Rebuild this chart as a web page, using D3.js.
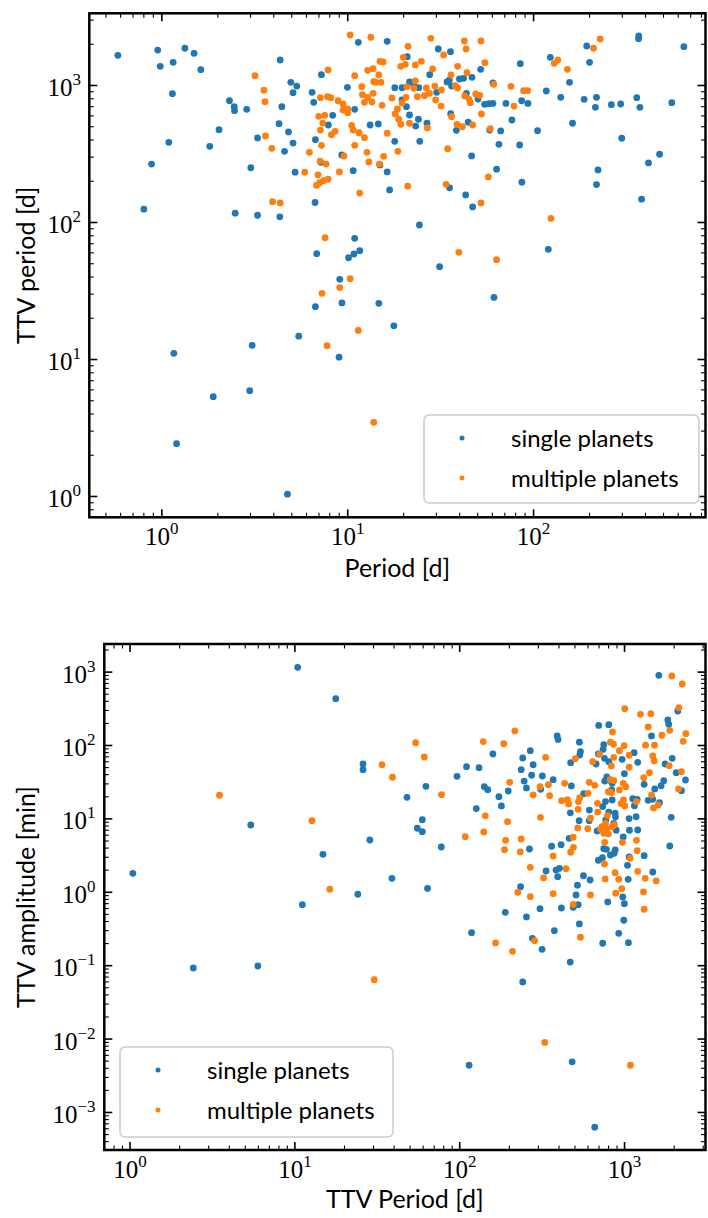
<!DOCTYPE html>
<html>
<head>
<meta charset="utf-8">
<script src="https://cdn.jsdelivr.net/npm/d3@7"></script>
<style>
  body { margin: 0; background: #fff; }
  svg { display: block; }
  .tick-label { font-family: "Liberation Serif", serif; font-size: 25px; fill: #000; }
  .axis-label { font-family: Lato, sans-serif; font-size: 25px; fill: #000; }
  .legend text { font-family: Lato, sans-serif; font-size: 24px; fill: #000; }
</style>
</head>
<body>
<svg id="chart" width="708" height="1218"></svg>
<script>
// Series names / colours
var seriesNames = ["single planets", "multiple planets"];
var seriesColors = ["#1f77b4", "#ff7f0e"];

// Top panel: [Period (d), TTV period (d)]
var singleTop = [
  [0.58,1660],[0.95,1815],[0.98,1380],[1.15,1476],[1.33,1870],[1.49,1718],[1.62,1304],[1.14,871],
  [4.33,1535],[7.22,1199],[4.94,1055],[5.32,991],[5.08,886],[6.43,892],[6.56,754],[9.96,970],
  [2.31,774],[2.45,700],[2.46,655],[2.86,670],[4.42,700],[8.30,606],[7.87,515],[10.9,670],
  [2.03,476],[1.09,385],[1.81,360],[4.27,526],[4.80,458],[3.27,414],[5.08,380],[4.57,331],
  [6.70,402],[9.29,311],[7.16,275],[0.88,267],[3.01,251],[5.21,233],[10.7,239],[0.80,125],
  [2.48,117],[3.27,113],[4.31,110],[6.67,140],[6.81,59.2],[10.9,76.7],[10.8,58.9],[10.1,55.3],
  [9.06,38.5],[11.4,2066],[6.70,24.3],[9.31,25.9],[5.45,14.8],[3.06,12.7],[1.16,11.1],[8.98,10.4],
  [1.89,5.35],[2.97,5.92],[1.20,2.43],[4.74,1.04],[14.7,25.7],[17.7,17.6],[61.2,28.4],
  [16.3,2102],[30.7,1847],[35.7,1765],[20.9,1623],[51.9,1313],[84.8,1443],[27.6,1199],[21.5,1061],
  [17.9,964],[19.6,964],[24.1,964],[22.7,986],[30.1,892],[34.2,1061],[35.2,1096],[36.2,991],
  [39.9,1115],[42.0,1129],[46.6,1147],[60.4,1043],[43.5,877],[50.2,797],[54.5,729],[57.5,736],
  [60.4,740],[71.0,740],[86.2,774],[93.2,740],[117,912],[123,1606],[140,820],[156,1055],
  [187,793],[218,820],[215,693],[262,724],[294,733],[359,815],[373,693],[554,749],
  [193,1942],[200,1476],[368,2297],[367,2197],[643,1920],[20.7,700],[19.6,784],[21.5,609],
  [24.0,567],[23.2,506],[26.7,530],[14.6,524],[13.2,515],[35.8,622],[44.5,539],[38.4,471],
  [58.0,473],[66.5,466],[76.4,560],[105,468],[162,530],[17.9,391],[24.4,391],[65.1,372],
  [84.1,368],[298,412],[46.4,306],[63.2,245],[86.5,197],[222,242],[218,189],[415,272],
  [476,315],[381,148],[16.3,234],[14.9,263],[16.8,173],[35.3,179],[43.1,159],[47.0,130],
  [24.3,95.9],[120,63.7],[31.2,47.6],[11.6,62.3]
];

var multiTop = [
  [3.17,1180],[3.54,923],[3.59,762],[7.84,1297],[10.3,2337],[10.9,1180],[7.13,815],[7.78,829],
  [8.11,815],[8.87,774],[9.43,733],[10.0,674],[9.43,662],[10.0,633],[6.98,596],[7.52,606],
  [7.34,532],[7.13,473],[8.55,463],[8.17,437],[10.5,512],[10.7,473],[11.5,452],[3.61,428],
  [3.90,348],[7.22,366],[10.9,366],[6.22,325],[9.55,306],[7.65,267],[7.10,281],[5.87,233],
  [6.92,223],[9.02,234],[7.84,207],[7.40,202],[7.07,195],[6.79,187],[3.94,142],[4.33,139],
  [11.6,164],[7.55,77.4],[10.3,38.9],[7.27,30.4],[9.06,33.5],[11.4,16.3],[7.74,12.6],[13.8,3.48],
  [13.3,2249],[28.0,2211],[42.4,2113],[52.1,2113],[43.3,1847],[21.1,1932],[32.8,1670],[19.9,1606],
  [14.9,1502],[15.5,1484],[19.3,1380],[20.4,1428],[23.1,1412],[24.9,1502],[39.0,1380],[54.7,1467],
  [12.8,1291],[13.7,1326],[28.6,1319],[14.7,1193],[43.8,1240],[35.9,1193],[13.8,1066],[15.1,1055],
  [14.2,1055],[23.1,1079],[11.9,980],[20.8,980],[22.7,954],[26.5,959],[29.4,991],[27.5,877],
  [25.9,842],[23.7,829],[29.7,784],[31.9,927],[37.9,997],[39.0,959],[61.0,1021],[75.5,986],
  [88.3,916],[92.8,916],[12.0,857],[13.7,877],[12.8,820],[12.3,754],[13.5,758],[17.3,811],
  [20.6,820],[19.6,745],[15.3,717],[42.6,838],[44.9,793],[45.7,749],[48.8,867],[51.3,848],
  [31.8,708],[78.4,708],[18.5,674],[18.0,620],[18.8,567],[19.3,521],[21.5,530],[26.8,490],
  [36.2,592],[38.7,521],[41.4,500],[47.0,515],[52.4,620],[58.5,484],[12.3,416],[16.3,448],
  [12.7,325],[15.6,304],[18.6,331],[13.0,277],[14.8,267],[34.5,346],[21.0,184],[33.8,190],
  [57.1,215],[52.1,139],[124,107],[152,1313],[129,1452],[135,1535],[210,1870],[228,2185],
  [39.6,60.6],[63.2,53.5]
];

// Bottom panel: [TTV period (d), TTV amplitude (min)]
var singleBottom = [
  [10.4,1163],[17.7,434],[5.40,8.26],[14.8,3.29],[1.04,1.81],[11.1,0.678],[24.1,0.94],[25.9,56.0],
  [25.9,46.8],[2.42,0.093],[5.96,0.099],
  [1614,904],[1830,223],[1854,194],[2104,295],[697,188],[802,192],[390,135],[395,121],
  [532,111],[1457,135],[748,103],[741,88.8],[540,82.4],[535,74.2],[694,76.6],[755,66.9],
  [802,60.2],[672,56.0],[471,58.3],[1143,79.8],[1202,59.0],[967,64.9],[998,41.3],[1763,56.0],
  [1945,66.9],[2057,42.6],[2343,33.9],[2215,24.2],[1730,33.2],[1667,28.3],[1525,25.6],[1391,17.9],
  [1483,18.5],[1629,16.6],[1315,29.6],[1193,18.5],[1148,15.1],[1121,18.8],[1176,10.7],[1066,10.1],
  [1202,7.06],[1071,7.0],[981,5.67],[1919,10.5],[1881,4.27],[1315,3.15],[1066,3.03],[1042,2.33],
  [1052,1.50],[1483,1.89],[758,32.8],[780,37.2],[813,33.6],[841,30.5],[836,24.8],[841,18.1],
  [766,17.2],[737,14.7],[802,12.4],[877,12.0],[881,10.7],[860,8.71],[889,7.0],[769,9.66],
  [682,6.84],[612,13.2],[565,22.0],[610,9.45],[530,9.45],[469,12.1],[461,5.44],[361,4.24],
  [412,4.45],[265,3.89],[748,3.93],[776,3.85],[877,3.77],[865,3.40],[821,3.22],[734,2.96],
  [694,2.73],[334,1.95],[384,2.01],[403,2.12],[393,1.63],[563,1.68],[618,1.47],[518,1.25],
  [508,0.92],[523,0.678],[791,0.738],[975,0.863],[998,0.699],[234,1.19],[307,0.598],[414,0.611],
  [159,76.6],[241,67.6],[268,84.9],[279,54.7],[236,46.8],[273,39.3],[317,38.4],[369,34.2],
  [246,32.8],[254,26.4],[310,25.3],[476,28.1],[197,24.0],[173,20.1],[179,15.0],[141,27.5],
  [148,25.0],[110,51.4],[131,49.9],[96.3,38.0],[62.4,27.8],[47.9,19.7],[126,13.8],[59.3,9.75],
  [55.3,7.45],[59.3,6.69],[28.5,5.16],[77.3,4.14],[38.8,1.55],[63.8,1.13],[189,0.534],[254,0.461],
  [488,0.625],[989,0.416],[922,0.276],[1056,0.206],[737,0.202],[532,0.370],[375,0.300],[276,0.236],
  [316,0.167],[468,0.112],[241,0.060],[118,0.282],[114,0.0044],[481,0.0049],[659,0.00063]
];

var multiBottom = [
  [3.49,21.0],[12.7,9.45],[16.3,1.10],[1935,885],[2237,689],[2134,327],[1003,317],[1249,266],
  [1443,271],[1391,179],[1683,138],[1881,161],[2353,145],[2268,114],[845,153],[821,111],
  [857,104],[994,99.3],[931,84.9],[1340,101],[1520,101],[1066,73.6],[1483,71.9],[1513,61.5],
  [1866,53.1],[1066,50.5],[860,69.1],[832,52.6],[707,75.9],[641,60.2],[332,69.1],[503,66.1],
  [216,158],[185,106],[139,113],[54.0,109],[61.0,69.7],[33.8,54.7],[39.1,36.9],[77.6,21.4],
  [201,31.5],[279,21.2],[307,27.5],[345,29.2],[351,20.7],[433,30.5],[415,17.7],[450,18.3],
  [458,16.0],[525,17.2],[535,19.4],[601,22.3],[610,31.5],[659,28.7],[523,13.5],[621,10.2],
  [598,7.35],[520,7.52],[685,16.3],[687,12.4],[798,23.5],[818,34.2],[860,33.2],[931,24.8],
  [981,30.5],[1017,27.5],[832,22.7],[985,18.1],[1003,15.0],[953,16.1],[1181,17.2],[1308,36.4],
  [1416,42.6],[1457,21.2],[1498,14.1],[1600,15.5],[2215,44.0],[2126,25.6],[787,11.1],[766,8.71],
  [780,7.35],[731,7.83],[714,7.28],[748,6.37],[798,6.23],[758,4.80],[755,2.43],[841,7.83],
  [868,8.34],[971,4.80],[1181,5.11],[1193,3.69],[1081,2.91],[1202,1.93],[1334,1.55],[1556,1.43],
  [1303,1.01],[877,1.85],[922,1.50],[962,1.12],[885,0.97],[763,1.52],[621,0.92],[488,5.62],
  [490,4.10],[471,3.51],[442,2.10],[369,3.12],[323,1.57],[369,0.957],[268,2.19],[268,0.871],
  [225,1.0],[190,5.11],[236,5.32],[233,3.54],[187,3.80],[195,9.16],[140,6.63],[143,11.0],
  [309,10.5],[108,5.72],[488,0.682],[1315,0.587],[165,0.204],[209,0.157],[285,0.219],[540,0.244],
  [30.3,0.0645],[328,0.0090],[1086,0.0044]
];

var svg = d3.select("#chart");

// Draw one log-log scatter panel
function drawPanel(p) {
  var g = svg.append("g");

  var x = d3.scaleLog().domain(p.xDomain).range([p.left, p.right]);
  var y = d3.scaleLog().domain(p.yDomain).range([p.bottom, p.top]);

  // points (single first, multiple drawn on top)
  p.series.forEach(function(data, i) {
    g.append("g").selectAll("circle")
        .data(data)
      .enter().append("circle")
        .attr("cx", function(d) { return x(d[0]); })
        .attr("cy", function(d) { return y(d[1]); })
        .attr("r", 3.4)
        .style("fill", seriesColors[i]);
  });

  function isMajor(v) {
    var l = Math.log10(v);
    return Math.abs(l - Math.round(l)) < 1e-6;
  }

  // ticks, inward on all four sides
  var ax = g.append("g").attr("stroke", "#000");
  x.ticks().forEach(function(v) {
    var len = isMajor(v) ? 8 : 4.5, w = isMajor(v) ? 1.6 : 1.1, px = x(v);
    ax.append("line").attr("x1", px).attr("x2", px).attr("y1", p.bottom).attr("y2", p.bottom - len).attr("stroke-width", w);
    ax.append("line").attr("x1", px).attr("x2", px).attr("y1", p.top).attr("y2", p.top + len).attr("stroke-width", w);
  });
  y.ticks().forEach(function(v) {
    var len = isMajor(v) ? 8 : 4.5, w = isMajor(v) ? 1.6 : 1.1, py = y(v);
    ax.append("line").attr("y1", py).attr("y2", py).attr("x1", p.left).attr("x2", p.left + len).attr("stroke-width", w);
    ax.append("line").attr("y1", py).attr("y2", py).attr("x1", p.right).attr("x2", p.right - len).attr("stroke-width", w);
  });

  function powLabel(sel, v) {
    var e = Math.round(Math.log10(v));
    sel.append("tspan").text("10");
    sel.append("tspan").attr("dy", -11).style("font-size", "17px")
        .text(e < 0 ? "\u2212" + (-e) : String(e));
  }

  x.ticks().filter(isMajor).forEach(function(v) {
    g.append("text").attr("class", "tick-label")
        .attr("x", x(v)).attr("y", p.bottom + 28)
        .attr("text-anchor", "middle")
        .call(powLabel, v);
  });
  y.ticks().filter(isMajor).forEach(function(v) {
    g.append("text").attr("class", "tick-label")
        .attr("x", p.yLabelX).attr("y", y(v) + 10.5)
        .attr("text-anchor", "end")
        .call(powLabel, v);
  });

  // frame
  g.append("rect")
      .attr("x", p.left).attr("y", p.top)
      .attr("width", p.right - p.left).attr("height", p.bottom - p.top)
      .attr("fill", "none").attr("stroke", "#000").attr("stroke-width", 2.5);

  // axis titles
  g.append("text").attr("class", "axis-label")
      .attr("x", (p.left + p.right) / 2).attr("y", p.xTitleY)
      .attr("text-anchor", "middle")
      .text(p.xTitle);
  g.append("text").attr("class", "axis-label")
      .attr("transform", "translate(" + p.yTitleX + "," + ((p.top + p.bottom) / 2) + ")rotate(-90)")
      .attr("text-anchor", "middle")
      .text(p.yTitle);

  // legend
  var lg = g.append("g").attr("class", "legend")
      .attr("transform", "translate(" + p.legend[0] + "," + p.legend[1] + ")");
  lg.append("rect")
      .attr("width", p.legend[2]).attr("height", p.legend[3])
      .attr("rx", 5).attr("ry", 5)
      .attr("fill", "#fff").attr("fill-opacity", 0.8)
      .attr("stroke", "#cccccc").attr("stroke-width", 1.5);
  seriesNames.forEach(function(name, i) {
    lg.append("circle")
        .attr("cx", 38).attr("cy", 23 + i * 40)
        .attr("r", 2.5).style("fill", seriesColors[i]);
    lg.append("text")
        .attr("x", 87).attr("y", 32 + i * 40)
        .text(name);
  });
}

drawPanel({
  series: [singleTop, multiTop],
  xDomain: [0.407, 841], yDomain: [0.705, 3365],
  left: 89.3, right: 705.5, top: 13.3, bottom: 517.3,
  yLabelX: 81, yTitleX: 35, xTitleY: 577,
  xTitle: "Period [d]", yTitle: "TTV period [d]",
  legend: [424, 415, 275, 88]
});

drawPanel({
  series: [singleBottom, multiBottom],
  xDomain: [0.698, 3098], yDomain: [3.08e-4, 2415],
  left: 104.3, right: 705.5, top: 644, bottom: 1150,
  yLabelX: 95.5, yTitleX: 35, xTitleY: 1208,
  xTitle: "TTV Period [d]", yTitle: "TTV amplitude [min]",
  legend: [120, 1047, 273, 90]
});
</script>
</body>
</html>
